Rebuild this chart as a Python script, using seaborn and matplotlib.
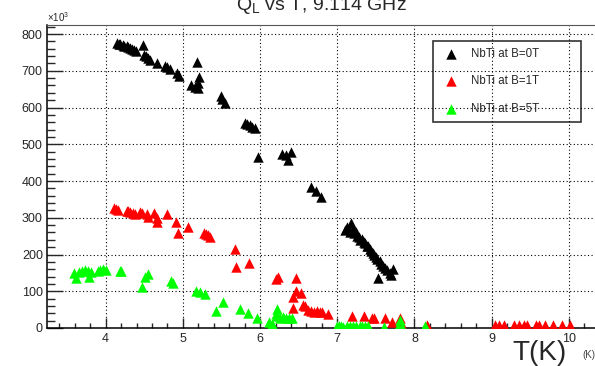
import matplotlib
matplotlib.use('Agg')
import matplotlib.pyplot as plt
import seaborn as sns
from matplotlib.ticker import MultipleLocator

# NbTi at B=0T  (T in K, Q_L in units of 10^3)
t_b0 = [4.15, 4.17, 4.19, 4.22, 4.24, 4.27, 4.29, 4.32, 4.34, 4.37, 4.39,
        4.48, 4.49, 4.52, 4.55, 4.58, 4.66, 4.77, 4.80, 4.83, 4.93, 4.95,
        5.11, 5.16, 5.18, 5.19, 5.20, 5.21, 5.49, 5.51, 5.54,
        5.80, 5.83, 5.87, 5.90, 5.93, 5.97, 6.28, 6.33, 6.36, 6.40,
        6.66, 6.73, 6.79,
        7.10, 7.13, 7.16, 7.18, 7.20, 7.22, 7.24, 7.26, 7.28, 7.30, 7.32,
        7.34, 7.36, 7.38, 7.40, 7.42, 7.44, 7.46, 7.48, 7.50, 7.52, 7.53,
        7.55, 7.57, 7.59, 7.62, 7.65, 7.68, 7.70, 7.72]
q_b0 = [776, 774, 772, 770, 768, 767, 764, 762, 758, 756, 754,
        770, 744, 740, 735, 730, 720, 712, 709, 706, 694, 686,
        661, 657, 725, 652, 666, 684, 630, 622, 612,
        557, 555, 552, 546, 543, 465, 474, 470, 456, 479,
        383, 374, 356,
        268, 276, 262, 285, 270, 258, 262, 250, 248, 240, 243,
        233, 230, 224, 222, 214, 210, 204, 200, 194, 188, 137,
        182, 175, 170, 164, 158, 150, 145, 160]

# NbTi at B=1T
t_b1 = [4.11, 4.13, 4.16, 4.27, 4.29, 4.32, 4.35, 4.38, 4.45, 4.47,
        4.53, 4.55, 4.63, 4.66, 4.67, 4.79, 4.91, 4.94, 5.07,
        5.27, 5.30, 5.33, 5.35, 5.67, 5.69, 5.86, 6.21, 6.23,
        6.46, 6.47, 6.53, 6.43, 6.43, 6.55, 6.58, 6.62, 6.66, 6.70,
        6.74, 6.77, 6.80, 6.88, 7.19, 7.34, 7.45, 7.47, 7.62, 7.71,
        7.81, 7.83, 8.16,
        9.04, 9.10, 9.16, 9.29, 9.36, 9.42, 9.46, 9.58, 9.61, 9.69,
        9.79, 9.91, 10.01]
q_b1 = [326, 324, 322, 318, 318, 315, 313, 311, 315, 312,
        311, 303, 312, 300, 288, 311, 288, 258, 274,
        258, 256, 252, 247, 215, 165, 177, 133, 138,
        136, 101, 94, 85, 55, 62, 60, 48, 46, 44,
        45, 44, 44, 39, 33, 33, 26, 28, 26, 17,
        26, 14, 8,
        9, 9, 9, 9, 9, 9, 9, 9, 9, 9,
        9, 9, 9]

# NbTi at B=5T
t_b5 = [3.59, 3.61, 3.66, 3.69, 3.73, 3.77, 3.79, 3.81, 3.90, 3.93, 3.96, 4.00,
        4.18, 4.20, 4.47, 4.51, 4.55, 4.84, 4.87, 5.17, 5.22, 5.29,
        5.43, 5.52, 5.74, 5.84, 5.96,
        6.12, 6.15, 6.17, 6.20, 6.22, 6.22, 6.26, 6.30, 6.34, 6.38, 6.42,
        6.99, 7.02, 7.05, 7.08, 7.12, 7.16, 7.20, 7.24, 7.29, 7.32, 7.36, 7.40,
        7.60, 7.79, 7.81, 7.84, 8.14]
q_b5 = [150, 137, 152, 155, 158, 156, 140, 152, 155, 158, 160, 158,
        156, 155, 111, 140, 146, 127, 122, 101, 98, 92,
        46, 72, 52, 42, 27,
        15, 10, 5, 38, 51, 33, 27, 30, 27, 26, 26,
        6, 5, 6, 4, 6, 5, 6, 5, 6, 5, 6, 5,
        4, 4, 21, 4, 5]

labels = ['NbTi at B=0T', 'NbTi at B=1T', 'NbTi at B=5T']
colors = ['#000000', '#ff0000', '#00ff00']

sns.set_style('white')
plt.rcParams['font.family'] = ['Liberation Sans', 'DejaVu Sans']
plt.rcParams['mathtext.fontset'] = 'custom'
plt.rcParams['mathtext.rm'] = 'Liberation Sans'

fig = plt.figure(figsize=(5.95, 3.66), dpi=100)
x0, x1 = 3.24, 10.4
ax = fig.add_axes([47 / 595, 1 - 328 / 366, (x1 - x0) * 77.2 / 595, 303 / 366])

series = [(t_b0, q_b0), (t_b1, q_b1), (t_b5, q_b5)]
for (t, q), lab, col in zip(series, labels, colors):
    sns.scatterplot(x=t, y=q, marker='^', s=56, color=col, linewidth=0,
                    label=lab, ax=ax, zorder=3)

ax.set_xlim(x0, x1)
ax.set_ylim(0, 824.5)
ax.set_xlabel('')
ax.set_ylabel('')

ax.xaxis.set_major_locator(MultipleLocator(1))
ax.xaxis.set_minor_locator(MultipleLocator(0.2))
ax.yaxis.set_major_locator(MultipleLocator(100))
ax.yaxis.set_minor_locator(MultipleLocator(20))

ax.tick_params(axis='y', which='major', direction='in', length=11.5, width=1,
               labelsize=9, pad=3, left=True)
ax.tick_params(axis='y', which='minor', direction='in', length=5.8, width=1, left=True)
ax.tick_params(axis='x', which='major', direction='in', length=7.2, width=1,
               labelsize=9, pad=3.5, bottom=True)
ax.tick_params(axis='x', which='minor', direction='in', length=3.6, width=1, bottom=True)

ax.grid(True, which='major', color='black', linestyle=(0, (1, 2.2)), linewidth=0.8)
ax.set_axisbelow(True)

for side in ['left', 'bottom']:
    ax.spines[side].set_color('black')
    ax.spines[side].set_linewidth(1.1)
ax.spines['top'].set_color('#555555')
ax.spines['top'].set_linewidth(0.8)
ax.spines['right'].set_visible(False)

leg = ax.legend(loc='upper left', bbox_to_anchor=(433 / 595, 1 - 119 / 366, 148 / 595, 78 / 366),
                bbox_transform=fig.transFigure, mode='expand', borderaxespad=0,
                fontsize=8.3, labelspacing=1.35, borderpad=0.6, handlelength=2.0,
                handletextpad=0.7, fancybox=False, frameon=True)
leg.get_frame().set_edgecolor('black')
leg.get_frame().set_linewidth(1.2)
leg.get_frame().set_facecolor('none')

fig.text(321 / 595, 1 - 10 / 366, r'Q$_{\mathregular{L}}$ vs T, 9.114 GHz',
         ha='center', va='baseline', fontsize=14)
fig.text(47 / 595, 1 - 22 / 366, r'$\times$10$^{3}$', ha='left', va='baseline', fontsize=7)
fig.text(567 / 595, 1 - 360 / 366, 'T(K)', ha='right', va='baseline', fontsize=20)
fig.text(582 / 595, 1 - 358 / 366, '(K)', ha='left', va='baseline', fontsize=7, color='#444444')

fig.savefig('out.png', dpi=100)
